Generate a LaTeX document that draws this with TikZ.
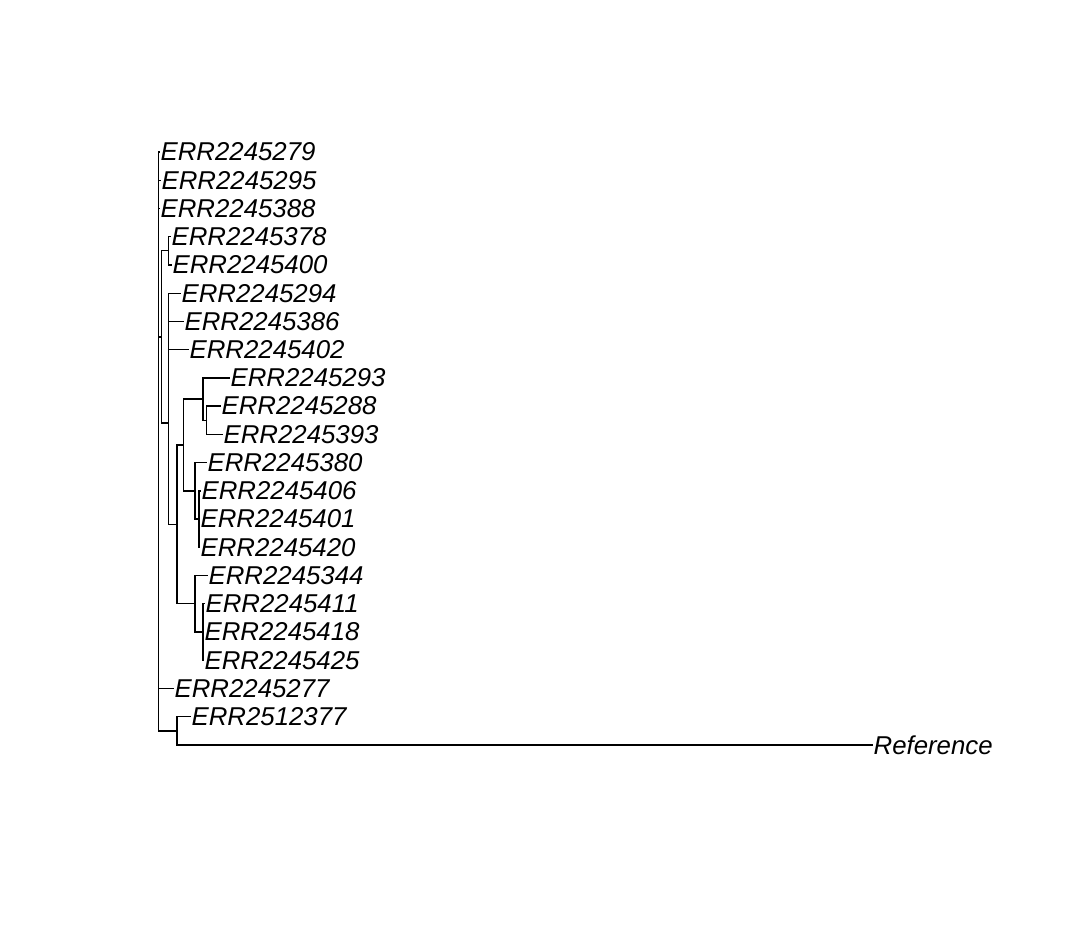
\documentclass[tikz,border=0pt]{standalone}
\usepackage{fontspec}
\setmainfont{Liberation Sans}
\begin{document}
\begin{tikzpicture}[x = 1pt, y = -1pt, line width = 1.3pt,
    every node/.style = {shape = rectangle, inner sep = 0pt, anchor = west,
      font = \itshape\fontsize{25.8}{30}\selectfont}]
  \useasboundingbox (0,0) rectangle (1080,926);
  % tips
  \node (t279) at (160,152.0) {ERR2245279};
  \node (t295) at (161,180.2) {ERR2245295};
  \node (t388) at (160,208.5) {ERR2245388};
  \node (t378) at (171,236.7) {ERR2245378};
  \node (t400) at (172,265.0) {ERR2245400};
  \node (t294) at (181,293.2) {ERR2245294};
  \node (t386) at (184,321.4) {ERR2245386};
  \node (t402) at (189,349.7) {ERR2245402};
  \node (t293) at (230,377.9) {ERR2245293};
  \node (t288) at (221,406.1) {ERR2245288};
  \node (t393) at (223,434.4) {ERR2245393};
  \node (t380) at (207,462.6) {ERR2245380};
  \node (t406) at (201,490.9) {ERR2245406};
  \node (t401) at (200,519.1) {ERR2245401};
  \node (t420) at (200,547.3) {ERR2245420};
  \node (t344) at (208,575.6) {ERR2245344};
  \node (t411) at (205,603.8) {ERR2245411};
  \node (t418) at (204,632.0) {ERR2245418};
  \node (t425) at (204,660.3) {ERR2245425};
  \node (t277) at (174,688.5) {ERR2245277};
  \node (t2512377) at (191,716.8) {ERR2512377};
  \node (ref) at (873,745.0) {Reference};
  % internal nodes
  \coordinate (root) at (158.5,383);
  \coordinate (M) at (161.5,336.9);
  \coordinate (P) at (168.5,250.8);
  \coordinate (C) at (168.5,422.9);
  \coordinate (X) at (168.5,321.4);
  \coordinate (J) at (177,524.4);
  \coordinate (G) at (183.5,445.0);
  \coordinate (H) at (203,399.1);
  \coordinate (I) at (206.5,420.3);
  \coordinate (E) at (195,490.9);
  \coordinate (F) at (199,519.1);
  \coordinate (K) at (195,603.8);
  \coordinate (L) at (203,632.0);
  \coordinate (N) at (177,730.9);
  % branches
  \foreach \a/\b in {root/t279, root/t295, root/t388, root/M, root/t277, root/N,
      M/P, M/C, P/t378, P/t400, C/X, C/J, X/t294, X/t386, X/t402,
      J/G, J/K, G/H, G/E, H/t293, H/I, I/t288, I/t393,
      E/t380, E/F, F/t406, F/t401, F/t420,
      K/t344, K/L, L/t411, L/t418, L/t425,
      N/t2512377, N/ref}
    \draw (\a) |- (\b);
\end{tikzpicture}
\end{document}
